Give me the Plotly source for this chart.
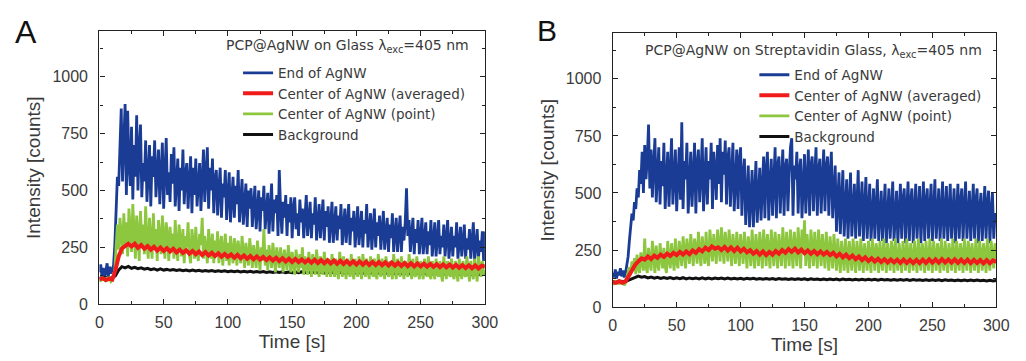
import plotly.graph_objects as go

# 1-second sampling grid for the noisy traces (0..300 s)
TIME_FINE = list(range(0, 301))
# 2.5-second sampling grid for the smooth traces
TIME = [0, 2.5, 5, 7.5, 10, 12.5, 15, 17.5, 20, 22.5,
        25, 27.5, 30, 32.5, 35, 37.5, 40, 42.5, 45, 47.5,
        50, 52.5, 55, 57.5, 60, 62.5, 65, 67.5, 70, 72.5,
        75, 77.5, 80, 82.5, 85, 87.5, 90, 92.5, 95, 97.5,
        100, 102.5, 105, 107.5, 110, 112.5, 115, 117.5, 120, 122.5,
        125, 127.5, 130, 132.5, 135, 137.5, 140, 142.5, 145, 147.5,
        150, 152.5, 155, 157.5, 160, 162.5, 165, 167.5, 170, 172.5,
        175, 177.5, 180, 182.5, 185, 187.5, 190, 192.5, 195, 197.5,
        200, 202.5, 205, 207.5, 210, 212.5, 215, 217.5, 220, 222.5,
        225, 227.5, 230, 232.5, 235, 237.5, 240, 242.5, 245, 247.5,
        250, 252.5, 255, 257.5, 260, 262.5, 265, 267.5, 270, 272.5,
        275, 277.5, 280, 282.5, 285, 287.5, 290, 292.5, 295, 297.5,
        300]

# ---------------- Panel A: PCP@AgNW on Glass ----------------
A_END = [140, 175, 120, 160, 110, 150, 180, 125, 165, 135,
         150, 170, 260, 420, 560, 520, 700, 860, 540, 760,
         880, 480, 850, 620, 520, 780, 460, 700, 560, 830,
         500, 680, 790, 470, 620, 540, 720, 450, 600, 700,
         430, 650, 560, 720, 470, 600, 680, 440, 560, 710,
         420, 620, 730, 480, 580, 450, 660, 530, 690, 430,
         560, 640, 410, 600, 500, 680, 440, 570, 620, 420,
         540, 650, 400, 600, 480, 640, 430, 560, 620, 410,
         580, 680, 450, 560, 690, 420, 600, 500, 640, 400,
         550, 590, 390, 510, 600, 380, 530, 470, 590, 370,
         500, 580, 360, 470, 560, 380, 520, 440, 590, 360,
         480, 550, 350, 460, 530, 340, 500, 420, 510, 340,
         460, 520, 330, 430, 500, 320, 470, 410, 520, 330,
         440, 490, 310, 420, 530, 320, 460, 400, 480, 300,
         590, 420, 310, 450, 380, 480, 300, 440, 360, 470,
         290, 420, 470, 330, 400, 300, 460, 360, 420, 290,
         410, 480, 300, 390, 450, 290, 400, 350, 470, 280,
         390, 440, 290, 380, 460, 280, 410, 340, 430, 270,
         380, 450, 270, 360, 430, 280, 390, 330, 440, 260,
         370, 420, 270, 350, 440, 260, 380, 320, 410, 250,
         360, 430, 260, 340, 410, 250, 370, 310, 440, 250,
         350, 400, 240, 330, 420, 250, 360, 300, 390, 240,
         340, 410, 240, 320, 380, 230, 350, 290, 400, 230,
         330, 380, 230, 310, 390, 230, 340, 280, 360, 510,
         300, 370, 230, 310, 380, 220, 330, 270, 370, 220,
         320, 380, 220, 300, 360, 220, 320, 260, 370, 210,
         310, 360, 210, 290, 370, 220, 300, 250, 350, 210,
         300, 370, 200, 280, 340, 210, 300, 250, 360, 200,
         290, 340, 210, 280, 350, 200, 290, 240, 330, 200,
         280, 360, 190, 270, 330, 200, 280, 230, 320, 190,
         320]
A_POINT = [110, 100, 120, 105, 115, 98, 118, 104, 112, 100,
           108, 120, 150, 260, 350, 240, 380, 300, 220, 400,
           260, 360, 210, 420, 300, 230, 440, 280, 200, 390,
           320, 190, 410, 260, 350, 220, 430, 270, 200, 380,
           300, 200, 400, 250, 330, 190, 370, 280, 220, 390,
           260, 200, 360, 300, 190, 340, 240, 310, 200, 370,
           250, 190, 350, 280, 210, 330, 180, 300, 250, 360,
           220, 180, 330, 270, 200, 340, 230, 190, 310, 260,
           380, 200, 300, 240, 180, 330, 260, 200, 310, 180,
           280, 230, 320, 180, 260, 300, 170, 250, 310, 190,
           270, 170, 300, 230, 180, 290, 250, 170, 280, 220,
           180, 300, 240, 160, 270, 210, 170, 290, 230, 160,
           260, 200, 160, 280, 220, 150, 250, 190, 330, 170,
           240, 150, 260, 200, 160, 270, 210, 140, 250, 190,
           160, 250, 200, 140, 240, 180, 150, 260, 190, 140,
           230, 170, 130, 240, 190, 140, 220, 160, 250, 130,
           210, 170, 130, 230, 180, 120, 220, 160, 130, 240,
           190, 120, 210, 150, 130, 230, 170, 120, 200, 150,
           120, 220, 170, 120, 200, 140, 110, 230, 160, 120,
           210, 150, 110, 200, 160, 120, 220, 140, 110, 200,
           160, 120, 210, 150, 110, 220, 170, 120, 200, 140,
           110, 210, 150, 120, 200, 130, 110, 220, 160, 120,
           200, 140, 110, 210, 160, 120, 190, 140, 110, 220,
           150, 110, 200, 160, 120, 210, 140, 110, 190, 150,
           120, 220, 160, 110, 200, 130, 120, 210, 150, 110,
           190, 140, 110, 200, 150, 120, 210, 130, 110, 190,
           150, 110, 200, 140, 120, 190, 130, 100, 210, 150,
           110, 190, 140, 120, 200, 130, 110, 190, 150, 100,
           200, 140, 110, 190, 130, 120, 210, 150, 100, 190,
           140, 110, 200, 130, 100, 210, 150, 120, 190, 130,
           150]
A_AVG = [110, 114, 106, 112, 108, 150, 210, 245, 255, 266,
         254, 266, 248, 260, 244, 256, 240, 252, 236, 249,
         234, 246, 232, 244, 228, 240, 226, 237, 222, 234,
         220, 232, 216, 229, 214, 226, 212, 224, 209, 221,
         208, 219, 204, 217, 202, 214, 200, 212, 198, 210,
         196, 208, 194, 206, 192, 204, 190, 202, 188, 200,
         186, 199, 185, 197, 184, 196, 182, 195, 181, 194,
         180, 193, 179, 192, 178, 191, 177, 190, 176, 189,
         175, 188, 174, 187, 173, 186, 172, 185, 171, 184,
         170, 183, 169, 182, 168, 181, 167, 180, 166, 179,
         166, 178, 165, 177, 164, 176, 163, 175, 162, 174,
         161, 173, 160, 172, 159, 171, 158, 170, 157, 169,
         166]
A_BG = [115, 113, 116, 114, 115, 125, 150, 165, 160, 166,
        158, 162, 156, 160, 154, 158, 152, 156, 150, 155,
        150, 153, 149, 152, 148, 151, 147, 150, 146, 150,
        146, 149, 145, 148, 145, 148, 144, 147, 144, 147,
        143, 146, 143, 146, 142, 145, 142, 145, 141, 144,
        141, 144, 140, 143, 140, 143, 140, 143, 139, 142,
        139, 142, 139, 142, 138, 141, 138, 141, 138, 141,
        137, 140, 137, 140, 137, 140, 136, 139, 136, 139,
        136, 139, 136, 139, 135, 138, 135, 138, 135, 138,
        134, 137, 134, 137, 134, 137, 133, 136, 133, 136,
        133, 136, 133, 136, 132, 135, 132, 135, 132, 135,
        131, 134, 131, 134, 131, 134, 130, 133, 130, 133,
        132]

# ---------------- Panel B: PCP@AgNW on Streptavidin Glass ----------------
B_END = [150, 130, 165, 125, 155, 140, 170, 135, 160, 130,
         150, 180, 220, 290, 340, 410, 380, 460, 430, 520,
         480, 600, 540, 680, 500, 710, 560, 650, 800, 520,
         690, 480, 620, 740, 460, 580, 700, 450, 640, 530,
         720, 430, 600, 680, 440, 560, 740, 450, 620, 690,
         420, 580, 700, 470, 810, 430, 640, 560, 720, 410,
         600, 680, 440, 550, 720, 410, 620, 690, 460, 580,
         740, 420, 600, 700, 450, 640, 560, 720, 430, 680,
         600, 470, 710, 540, 740, 460, 680, 580, 730, 450,
         650, 700, 440, 610, 720, 420, 560, 690, 430, 640,
         700, 400, 580, 650, 360, 520, 620, 350, 470, 600,
         350, 540, 640, 370, 500, 610, 380, 560, 660, 390,
         600, 680, 380, 540, 650, 400, 580, 700, 390, 620,
         660, 410, 560, 690, 400, 610, 650, 420, 580, 700,
         740, 400, 620, 560, 680, 410, 600, 650, 390, 580,
         670, 410, 560, 690, 400, 620, 660, 420, 580, 700,
         400, 600, 650, 410, 560, 690, 420, 610, 660, 400,
         580, 680, 390, 550, 620, 330, 500, 590, 320, 480,
         600, 310, 470, 560, 300, 500, 590, 310, 450, 540,
         300, 480, 600, 310, 440, 550, 290, 470, 570, 300,
         460, 540, 290, 430, 520, 300, 470, 560, 290, 420,
         510, 290, 450, 540, 280, 430, 520, 300, 460, 550,
         290, 420, 510, 280, 440, 540, 300, 470, 520, 280,
         430, 550, 290, 460, 520, 280, 420, 540, 300, 450,
         530, 280, 440, 550, 290, 460, 520, 300, 430, 540,
         290, 450, 560, 300, 440, 520, 290, 470, 550, 300,
         420, 530, 290, 460, 540, 300, 430, 520, 280, 450,
         540, 300, 460, 520, 290, 440, 550, 300, 430, 510,
         290, 450, 540, 300, 460, 520, 280, 430, 500, 290,
         440, 530, 300, 450, 510, 280, 420, 500, 300, 410,
         400]
B_POINT = [110, 98, 118, 104, 112, 100, 116, 102, 110, 96,
           106, 130, 150, 175, 140, 200, 160, 215, 145, 230,
           170, 150, 240, 190, 160, 300, 180, 150, 260, 200,
           160, 290, 210, 150, 270, 190, 160, 280, 220, 170,
           260, 180, 150, 290, 210, 170, 280, 230, 160, 300,
           200, 170, 290, 240, 180, 310, 220, 170, 300, 250,
           190, 320, 230, 180, 300, 260, 190, 330, 240, 180,
           310, 250, 190, 330, 220, 180, 340, 260, 200, 320,
           230, 190, 340, 270, 200, 350, 250, 190, 330, 260,
           200, 340, 240, 180, 320, 270, 190, 330, 230, 180,
           320, 250, 190, 330, 230, 170, 310, 260, 180, 340,
           240, 170, 320, 260, 180, 330, 220, 170, 340, 250,
           180, 320, 260, 170, 340, 230, 180, 330, 250, 170,
           320, 240, 180, 350, 260, 170, 330, 230, 180, 340,
           250, 170, 330, 260, 180, 350, 230, 170, 340, 250,
           380, 180, 320, 250, 170, 340, 260, 180, 330, 220,
           170, 340, 250, 180, 320, 240, 170, 330, 230, 160,
           310, 240, 170, 320, 220, 160, 300, 230, 150, 290,
           220, 160, 300, 240, 150, 290, 210, 160, 300, 230,
           150, 290, 220, 160, 300, 240, 150, 280, 210, 160,
           290, 230, 150, 300, 220, 160, 280, 240, 150, 290,
           210, 160, 300, 230, 150, 280, 220, 160, 290, 240,
           150, 300, 210, 160, 280, 230, 150, 290, 220, 160,
           300, 240, 150, 280, 210, 160, 290, 230, 150, 300,
           220, 160, 280, 240, 150, 290, 210, 160, 300, 230,
           150, 290, 220, 160, 280, 240, 150, 300, 210, 160,
           290, 230, 150, 280, 220, 160, 300, 240, 150, 290,
           210, 160, 280, 230, 150, 300, 220, 160, 290, 240,
           150, 280, 210, 160, 300, 230, 150, 290, 220, 160,
           280, 240, 150, 300, 210, 160, 290, 230, 170, 280,
           200]
B_AVG = [110, 106, 114, 107, 113, 140, 165, 185, 200, 214,
         208, 222, 211, 226, 216, 230, 220, 234, 224, 238,
         228, 242, 230, 244, 232, 248, 238, 254, 244, 260,
         250, 266, 256, 262, 250, 264, 248, 262, 246, 260,
         244, 256, 240, 250, 234, 246, 230, 244, 228, 242,
         230, 246, 234, 250, 238, 254, 242, 256, 240, 252,
         236, 248, 234, 246, 232, 244, 230, 242, 228, 238,
         222, 234, 218, 230, 214, 226, 210, 222, 206, 218,
         202, 214, 200, 212, 198, 210, 196, 209, 196, 208,
         194, 208, 194, 207, 193, 207, 193, 208, 194, 209,
         195, 209, 195, 210, 196, 209, 195, 209, 194, 208,
         194, 208, 193, 207, 193, 206, 192, 206, 192, 205,
         198]
B_BG = [112, 110, 113, 111, 112, 118, 125, 132, 136, 131,
        134, 128, 132, 127, 131, 126, 130, 126, 130, 125,
        129, 125, 129, 124, 128, 125, 128, 124, 128, 124,
        127, 123, 127, 124, 127, 123, 127, 123, 126, 123,
        126, 122, 126, 123, 126, 122, 125, 122, 125, 122,
        125, 121, 125, 122, 124, 121, 124, 121, 124, 121,
        124, 120, 124, 121, 123, 120, 123, 120, 123, 120,
        123, 119, 123, 120, 122, 119, 122, 119, 122, 119,
        122, 119, 122, 118, 122, 119, 121, 118, 121, 118,
        121, 118, 121, 117, 121, 118, 120, 117, 120, 117,
        120, 117, 120, 116, 120, 117, 119, 116, 119, 116,
        119, 116, 119, 116, 119, 116, 118, 115, 118, 115,
        117]

SERIES_NAMES = ["End of AgNW", "Center of AgNW (averaged)",
                "Center of AgNW (point)", "Background"]
PANEL_TITLES = ["PCP@AgNW on Glass λ<sub>exc</sub>=405 nm",
                "PCP@AgNW on Streptavidin Glass, λ<sub>exc</sub>=405 nm"]
X_TICKS = [0, 50, 100, 150, 200, 250, 300]
Y_TICKS = [0, 250, 500, 750, 1000]

COLORS = {"end": "#1b3c95", "avg": "#f01c1c", "point": "#8dc63f", "bg": "#111111"}
FONT = "Liberation Sans, Arial, sans-serif"
LFONT = "DejaVu Sans, sans-serif"
TXT = "#3a3a3a"

fig = go.Figure()

panels = [
    ("x", "y", "legend", A_END, A_AVG, A_POINT, A_BG),
    ("x2", "y2", "legend2", B_END, B_AVG, B_POINT, B_BG),
]
for xa, ya, lg, end, avg, pt, bg in panels:
    # draw order: blue, black, green, red ; legend order via legendrank
    fig.add_trace(go.Scatter(x=TIME_FINE, y=end, mode="lines", name=SERIES_NAMES[0],
                             line=dict(color=COLORS["end"], width=2.8),
                             xaxis=xa, yaxis=ya, legend=lg, legendrank=1))
    fig.add_trace(go.Scatter(x=TIME, y=bg, mode="lines", name=SERIES_NAMES[3],
                             line=dict(color=COLORS["bg"], width=3),
                             xaxis=xa, yaxis=ya, legend=lg, legendrank=4))
    fig.add_trace(go.Scatter(x=TIME_FINE, y=pt, mode="lines", name=SERIES_NAMES[2],
                             line=dict(color=COLORS["point"], width=2.8),
                             xaxis=xa, yaxis=ya, legend=lg, legendrank=3))
    fig.add_trace(go.Scatter(x=TIME, y=avg, mode="lines", name=SERIES_NAMES[1],
                             line=dict(color=COLORS["avg"], width=4),
                             xaxis=xa, yaxis=ya, legend=lg, legendrank=2))

W, H = 1026, 361


def xax(domain, anchor):
    return dict(domain=domain, anchor=anchor, range=[0, 300], tickvals=X_TICKS,
                ticks="inside", ticklen=5, tickcolor="#222", showline=True,
                linecolor="#222", linewidth=1.4, mirror="allticks",
                minor=dict(dtick=25, ticks="inside", ticklen=3, tickcolor="#222"),
                showgrid=False, zeroline=False, ticklabelstandoff=3,
                tickfont=dict(family=FONT, size=16, color=TXT),
                title=dict(text="Time [s]", font=dict(family=FONT, size=19, color=TXT),
                           standoff=3))


def yax(domain, anchor):
    return dict(domain=domain, anchor=anchor, range=[0, 1200], tickvals=Y_TICKS,
                ticks="inside", ticklen=5, tickcolor="#222", showline=True,
                linecolor="#222", linewidth=1.4, mirror="allticks",
                minor=dict(dtick=125, ticks="inside", ticklen=3, tickcolor="#222"),
                showgrid=False, zeroline=False, ticklabelstandoff=7,
                tickfont=dict(family=FONT, size=16, color=TXT),
                title=dict(text="Intensity [counts]",
                           font=dict(family=FONT, size=19, color=TXT), standoff=6))


leg_common = dict(bgcolor="rgba(0,0,0,0)", borderwidth=0, xanchor="left", yanchor="top",
                  font=dict(family=LFONT, size=13.5, color=TXT), tracegroupgap=0,
                  itemwidth=30, traceorder="normal")

fig.update_layout(
    width=W, height=H, margin=dict(l=0, r=0, t=0, b=0),
    paper_bgcolor="white", plot_bgcolor="white",
    xaxis=xax([97 / W, 489 / W], "y"),
    yaxis=yax([1 - 312 / H, 1 - 32 / H], "x"),
    xaxis2=xax([619 / W, 1009 / W], "y2"),
    yaxis2=yax([1 - 315 / H, 1 - 34 / H], "x2"),
    legend=dict(x=238 / W, y=1 - 59 / H, **leg_common),
    legend2=dict(x=763 / W, y=1 - 61 / H, **leg_common),
    showlegend=True,
)

fig.add_annotation(text=PANEL_TITLES[0], x=224 / W, y=1 - 47 / H, xref="paper", yref="paper",
                   xanchor="left", yanchor="middle", showarrow=False,
                   font=dict(family=LFONT, size=14, color=TXT))
fig.add_annotation(text=PANEL_TITLES[1], x=650 / W, y=1 - 52 / H, xref="paper", yref="paper",
                   xanchor="left", yanchor="middle", showarrow=False,
                   font=dict(family=LFONT, size=14, color=TXT))
fig.add_annotation(text="A", x=9 / W, y=1 - 33 / H, xref="paper", yref="paper",
                   xanchor="left", yanchor="middle", showarrow=False,
                   font=dict(family=FONT, size=32, color="#111"))
fig.add_annotation(text="B", x=540 / W, y=1 - 31 / H, xref="paper", yref="paper",
                   xanchor="left", yanchor="middle", showarrow=False,
                   font=dict(family=FONT, size=30, color="#111"))

fig.write_html("out.html")
